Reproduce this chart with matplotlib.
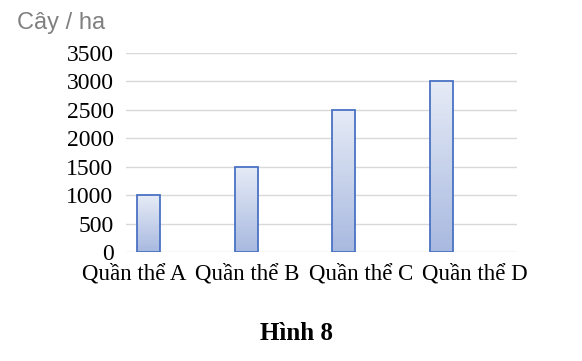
import numpy as np
import matplotlib.pyplot as plt
from matplotlib.colors import LinearSegmentedColormap

categories = ["Quần thể A", "Quần thể B", "Quần thể C", "Quần thể D"]
values = [1000, 1500, 2500, 3000]
yticks = [0, 500, 1000, 1500, 2000, 2500, 3000, 3500]

fig = plt.figure(figsize=(5.82, 3.61), dpi=100)
ax = fig.add_axes([0.2165, 0.302, 0.6715, 0.551])

x = np.arange(len(categories))
bars = ax.bar(x - 0.27, values, width=0.235, facecolor="none",
              edgecolor="#4a72c4", linewidth=1.3, zorder=3)

# gradient fill for each bar, light at top, blue at bottom
cmap = LinearSegmentedColormap.from_list("g", ["#a8b9e0", "#e6ebf6"])
grad = np.linspace(0, 1, 256).reshape(-1, 1)
for b in bars:
    x0, y0 = b.get_x(), b.get_y()
    w, h = b.get_width(), b.get_height()
    im = ax.imshow(grad, cmap=cmap, origin="lower", aspect="auto",
                   extent=[x0, x0 + w, y0, y0 + h], zorder=2)
    im.set_clip_path(b)

ax.set_xlim(-0.5, 3.5)
ax.set_ylim(0, 3500)
ax.set_yticks(yticks)
ax.set_yticklabels([str(v) for v in yticks], family="Liberation Serif", fontsize=17)
ax.set_xticks(x * 1.163 - 0.418)
ax.set_xticklabels(categories, family="Liberation Serif", fontsize=16.5)
ax.tick_params(axis="both", length=0)
ax.tick_params(axis="y", pad=9)
ax.tick_params(axis="x", pad=8)
ax.grid(axis="y", color="#d9d9d9", linewidth=1, zorder=0)
for s in ax.spines.values():
    s.set_visible(False)

fig.text(0.03, 0.937, "Cây / ha", family="Liberation Sans", fontsize=17,
         color="#808080", ha="left", va="center")
fig.text(0.51, 0.077, "Hình 8", family="Liberation Serif", fontsize=18,
         fontweight="bold", ha="center", va="center")

fig.savefig("out.png", dpi=100)
plt.close(fig)
